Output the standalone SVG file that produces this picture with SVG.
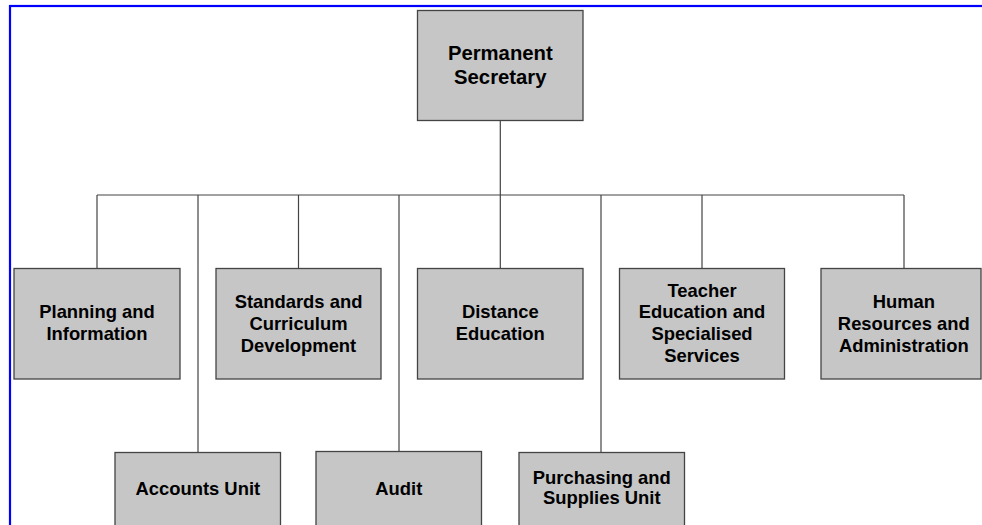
<svg xmlns="http://www.w3.org/2000/svg" width="982" height="525" viewBox="0 0 982 525">
<style>
.box{fill:#c6c6c6;stroke:#444;stroke-width:1.3}
.t{font-family:"Liberation Sans",Arial,sans-serif;font-weight:bold;font-size:18.4px;fill:#000;text-anchor:middle}
.tb{font-size:20.3px}
.c{fill:none;stroke:#444;stroke-width:1.2}
</style>
<rect x="0" y="0" width="982" height="525" fill="#fff"/>
<rect x="10" y="6" width="990" height="540" fill="none" stroke="#0000ff" stroke-width="2.2"/>
<g id="connectors">
<path class="c" d="M500.3 120.5V195M97 195H904M97 195V268.5M198 195V452.5M298.5 195V268.5M399 195V452.5M500.3 195V268.5M601 195V452.5M702 195V268.5M904 195V268.5"/>
</g>
<g id="permanent-secretary">
<rect class="box" x="417.5" y="10.5" width="165.5" height="110"/>
<text class="t tb" x="500.3" y="60">Permanent</text>
<text class="t tb" x="500.3" y="84">Secretary</text>
</g>
<g id="planning">
<rect class="box" x="14" y="268.5" width="166" height="110.5"/>
<text class="t" x="97" y="318.3">Planning and</text>
<text class="t" x="97" y="340">Information</text>
</g>
<g id="standards">
<rect class="box" x="216" y="268.5" width="165" height="110.5"/>
<text class="t" x="298.5" y="308.3">Standards and</text>
<text class="t" x="298.5" y="330">Curriculum</text>
<text class="t" x="298.5" y="351.7">Development</text>
</g>
<g id="distance">
<rect class="box" x="417.5" y="268.5" width="165.5" height="110.5"/>
<text class="t" x="500.3" y="318.3">Distance</text>
<text class="t" x="500.3" y="340">Education</text>
</g>
<g id="teacher">
<rect class="box" x="619.5" y="268.5" width="165" height="110.5"/>
<text class="t" x="702" y="296.7">Teacher</text>
<text class="t" x="702" y="318.3">Education and</text>
<text class="t" x="702" y="340">Specialised</text>
<text class="t" x="702" y="361.7">Services</text>
</g>
<g id="human-resources">
<rect class="box" x="821" y="268.5" width="160" height="110.5"/>
<text class="t" x="903.8" y="308.3">Human</text>
<text class="t" x="903.8" y="330">Resources and</text>
<text class="t" x="903.8" y="351.7">Administration</text>
</g>
<g id="accounts">
<rect class="box" x="115" y="452.5" width="165.5" height="110.5"/>
<text class="t" x="197.8" y="495.3">Accounts Unit</text>
</g>
<g id="audit">
<rect class="box" x="316" y="451.5" width="165.5" height="110.5"/>
<text class="t" x="398.8" y="495.3">Audit</text>
</g>
<g id="purchasing">
<rect class="box" x="519" y="452.5" width="165.5" height="110.5"/>
<text class="t" x="601.8" y="484.3">Purchasing and</text>
<text class="t" x="601.8" y="504">Supplies Unit</text>
</g>
</svg>
